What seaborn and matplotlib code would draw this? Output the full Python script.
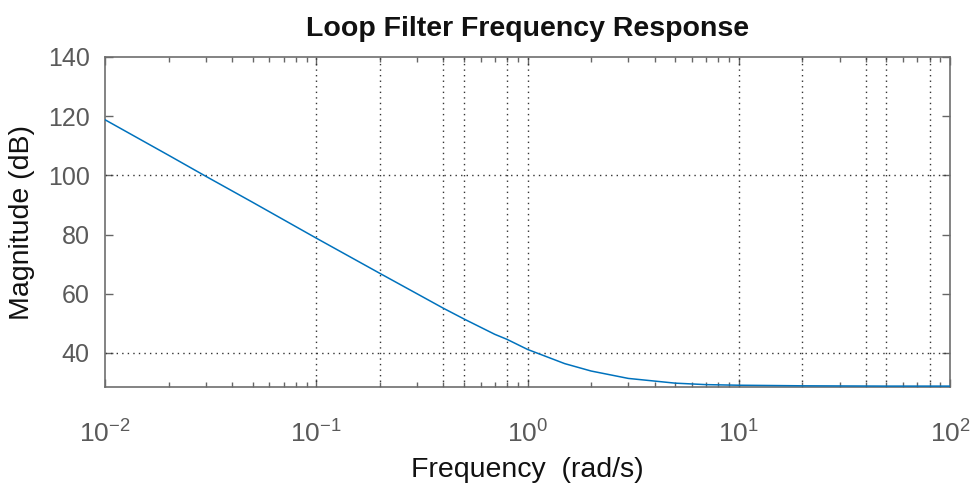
import numpy as np
import pandas as pd
import matplotlib
matplotlib.use("Agg")
import matplotlib.pyplot as plt
import seaborn as sns
from matplotlib.ticker import LogLocator, NullFormatter, FixedLocator

# data
freq = [0.01, 0.02, 0.03, 0.05, 0.1, 0.2, 0.3, 0.4, 0.5, 0.7, 0.8, 1.0, 1.5, 2.0,
        3.0, 5.0, 7.0, 10.0, 20.0, 50.0, 100.0]
mag_db = [118.8, 106.8, 99.7, 90.9, 78.8, 66.9, 60.0, 55.1, 51.5, 46.3, 44.6, 41.2, 36.4, 33.9,
          31.4, 29.8, 29.3, 29.1, 28.9, 28.8, 28.8]
ytick_vals = [40, 60, 80, 100, 120, 140]
xtick_vals = [0.01, 0.1, 1, 10, 100]
xtick_labels = [r"$10^{-2}$", r"$10^{-1}$", r"$10^{0}$", r"$10^{1}$", r"$10^{2}$"]
xgrid_vals = [0.1, 0.2, 0.4, 0.5, 0.8, 1, 10, 20, 40, 50, 80]
ygrid_vals = [40, 100]

df = pd.DataFrame({"Frequency": freq, "Magnitude": mag_db})

sns.set_theme(style="white")
plt.rcParams['font.family'] = ['Liberation Sans', 'DejaVu Sans']
plt.rcParams['mathtext.fontset'] = 'custom'
plt.rcParams['mathtext.rm'] = 'Liberation Sans'
plt.rcParams['mathtext.it'] = 'Liberation Sans'

fig = plt.figure(figsize=(9.74, 4.84), dpi=100)
ax = fig.add_axes([105/974, 1-387/484, (950-105)/974, (387-57)/484])

grid_kw = dict(color="#333333", lw=1.0, ls=(0, (1, 3)), zorder=1)
for gx in xgrid_vals:
    ax.axvline(gx, **grid_kw)
for gy in ygrid_vals:
    ax.axhline(gy, **grid_kw)

sns.lineplot(data=df, x="Frequency", y="Magnitude", ax=ax, color="#0072BD", lw=1.1, zorder=3)
ax.set_xscale("log")
ax.set_xlim(0.01, 100)
ax.set_ylim(28.5, 140)

ax.xaxis.set_major_locator(FixedLocator(xtick_vals))
ax.set_xticklabels(xtick_labels)
ax.xaxis.set_minor_locator(LogLocator(base=10, subs=np.arange(2, 10)))
ax.xaxis.set_minor_formatter(NullFormatter())
ax.set_yticks(ytick_vals)

tick_color = "#5a5a5a"
ax.tick_params(axis="both", which="major", direction="in", length=6, width=1,
               color="#666666", labelcolor=tick_color, labelsize=18,
               top=True, right=True, bottom=True, left=True)
ax.tick_params(axis="x", which="minor", direction="in", length=3.5, width=1,
               color="#666666", top=True, bottom=True)
ax.tick_params(axis="x", which="major", pad=24, labelsize=19)
ax.tick_params(axis="y", which="major", pad=11)

for s in ax.spines.values():
    s.set_color("#6e6e6e")
    s.set_linewidth(1.2)
    s.set_visible(True)

ax.set_xlabel("Frequency  (rad/s)", fontsize=20.5, color="#111111", labelpad=7)
ax.set_ylabel("Magnitude (dB)", fontsize=20.5, color="#111111", labelpad=9)
ax.set_title("Loop Filter Frequency Response", fontsize=20.5, fontweight="bold",
             color="#111111", pad=15)

fig.savefig("out.png", dpi=100, facecolor="white")
